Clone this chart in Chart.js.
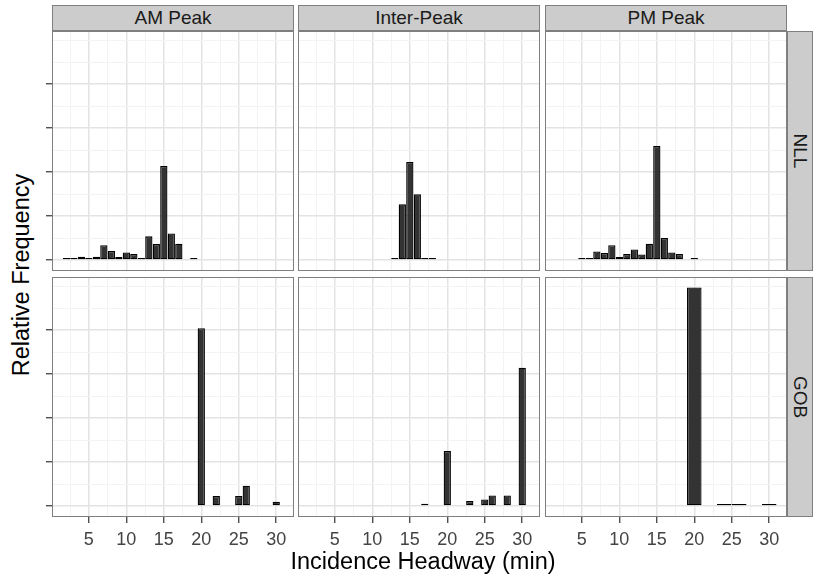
<!DOCTYPE html>
<html>
<head>
<meta charset="utf-8">
<script src="https://cdn.jsdelivr.net/npm/chart.js@4.4.1/dist/chart.umd.min.js"></script>
<style>
html,body{margin:0;padding:0;background:#fff;}
#root{position:relative;width:817px;height:581px;overflow:hidden;font-family:"Liberation Sans",Arial,sans-serif;}
#root canvas{position:absolute;}
.strip{position:absolute;box-sizing:border-box;background:#cccccc;border:1px solid #7f7f7f;color:#1a1a1a;font-size:19px;display:flex;align-items:center;justify-content:center;white-space:nowrap;}
.strip.v span{display:inline-block;transform:rotate(90deg);}
.title{position:absolute;color:#000;font-size:23.5px;white-space:nowrap;transform:translate(-50%,-50%);}
</style>
</head>
<body>
<div id="root"></div>
<script>
// ---------- data ----------
const periods = ['AM Peak', 'Inter-Peak', 'PM Peak'];
const routes = ['NLL', 'GOB'];
const xTickValues = [5, 10, 15, 20, 25, 30];
const yTickValues = [0, 0.1, 0.2, 0.3, 0.4];
const xAxisTitle = 'Incidence Headway (min)';
const yAxisTitle = 'Relative Frequency';

// NLL
const amNllHeadway = [2, 3, 4, 5, 6, 7, 8, 9, 10, 11, 12, 13, 14, 15, 16, 17, 19];
const amNllFreq    = [0.002, 0.0046, 0.0076, 0.0046, 0.0076, 0.034, 0.0205, 0.0068, 0.0175, 0.0137, 0.003, 0.054, 0.0364, 0.214, 0.0607, 0.0372, 0.0046];
const ipNllHeadway = [13, 14, 15, 16, 17, 18];
const ipNllFreq    = [0.001, 0.1267, 0.223, 0.1495, 0.001, 0.001];
const pmNllHeadway = [5, 6, 7, 8, 9, 10, 11, 12, 13, 14, 15, 16, 17, 18, 20];
const pmNllFreq    = [0.0015, 0.0015, 0.0197, 0.016, 0.034, 0.0068, 0.0137, 0.0243, 0.0129, 0.0372, 0.2595, 0.05, 0.0175, 0.0137, 0.001];

// GOB
const amGobHeadway = [20, 22, 25, 26, 30];
const amGobFreq    = [0.4045, 0.0227, 0.0227, 0.0462, 0.0098];
const ipGobHeadway = [17, 20, 23, 25, 26, 28, 30];
const ipGobFreq    = [0.0053, 0.125, 0.0114, 0.0152, 0.0242, 0.0242, 0.3144];
const pmGobHeadway = [20, 24, 26, 30];
const pmGobFreq    = [0.497, 0.002, 0.002, 0.002];

const panels = [
  [[amNllHeadway, amNllFreq], [ipNllHeadway, ipNllFreq], [pmNllHeadway, pmNllFreq]],
  [[amGobHeadway, amGobFreq], [ipGobHeadway, ipGobFreq], [pmGobHeadway, pmGobFreq]]
];

// ---------- layout / style ----------
const FONT = '"Liberation Sans", Arial, sans-serif';
const colLeft = [52, 298, 545];
const rowTop = [31, 277];
const panelW = 242, panelH = 240;
const X_MIN = 0.08, X_MAX = 32.37;
const Y_MIN = -0.0248, Y_MAX = 0.5208;

// grid positions: majors plus half-step minors
const xGrid = [];
for (let i = 0; i < xTickValues.length; i++) {
  xGrid.push(xTickValues[i] - 2.5, xTickValues[i]);
}
const yGrid = [];
for (let k = 0; k <= 10; k++) yGrid.push(+(k * 0.05).toFixed(4));

const isXMajor = v => xTickValues.some(t => Math.abs(t - v) < 1e-6);
const isYMajor = v => yTickValues.some(t => Math.abs(t - v) < 1e-6);

const root = document.getElementById('root');

const panelBorder = {
  id: 'panelBorder',
  afterDraw(chart) {
    const {ctx, chartArea: a} = chart;
    ctx.save();
    ctx.strokeStyle = '#7f7f7f';
    ctx.lineWidth = 1;
    ctx.strokeRect(Math.round(a.left) + 0.5, Math.round(a.top) + 0.5, Math.round(a.right - a.left) - 1, Math.round(a.bottom - a.top) - 1);
    ctx.restore();
  }
};

for (let r = 0; r < 2; r++) {
  for (let c = 0; c < 3; c++) {
    const L = c === 0 ? 7 : 0;
    const B = r === 1 ? 40 : 0;
    const cv = document.createElement('canvas');
    cv.width = panelW + L;
    cv.height = panelH + B;
    cv.style.left = (colLeft[c] - L) + 'px';
    cv.style.top = rowTop[r] + 'px';
    root.appendChild(cv);
    const [xs, ys] = panels[r][c];
    new Chart(cv, {
      type: 'bar',
      data: {
        datasets: [{
          data: xs.map((x, i) => ({x: x, y: ys[i]})),
          backgroundColor: '#333333',
          borderColor: '#000000',
          borderWidth: 1.3,
          borderSkipped: false,
          barPercentage: 0.97,
          categoryPercentage: 1.0,
          minBarLength: 2
        }]
      },
      options: {
        responsive: false,
        animation: false,
        layout: {padding: 0, autoPadding: false},
        plugins: {legend: {display: false}, tooltip: {enabled: false}},
        scales: {
          x: {
            type: 'linear', min: X_MIN, max: X_MAX, offset: false, bounds: 'data',
            border: {display: false},
            grid: {
              offset: false,
              color: ctx => isXMajor(ctx.tick.value) ? '#e3e3e3' : '#f3f3f3',
              lineWidth: ctx => isXMajor(ctx.tick.value) ? 1.5 : 1,
              drawTicks: r === 1,
              tickLength: 6,
              tickWidth: 1.2,
              tickColor: ctx => isXMajor(ctx.tick.value) ? '#333333' : 'rgba(0,0,0,0)'
            },
            ticks: {
              display: r === 1,
              autoSkip: false, maxRotation: 0, padding: 6,
              color: '#444444',
              font: {size: 18, family: FONT},
              callback: v => isXMajor(v) ? String(v) : ''
            },
            afterBuildTicks: s => { s.ticks = xGrid.map(v => ({value: v})); },
            afterFit: s => { s.height = B; }
          },
          y: {
            type: 'linear', min: Y_MIN, max: Y_MAX, bounds: 'data',
            border: {display: false},
            grid: {
              color: ctx => isYMajor(ctx.tick.value) ? '#e3e3e3' : '#f3f3f3',
              lineWidth: ctx => isYMajor(ctx.tick.value) ? 1.5 : 1,
              drawTicks: c === 0,
              tickLength: 6,
              tickWidth: 1.2,
              tickColor: ctx => isYMajor(ctx.tick.value) ? '#333333' : 'rgba(0,0,0,0)'
            },
            ticks: {display: false},
            afterBuildTicks: s => { s.ticks = yGrid.map(v => ({value: v})); },
            afterFit: s => { s.width = L; }
          }
        }
      },
      plugins: [panelBorder]
    });
  }
}

// strips
periods.forEach((p, c) => {
  const d = document.createElement('div');
  d.className = 'strip';
  d.style.left = colLeft[c] + 'px';
  d.style.top = '5px';
  d.style.width = panelW + 'px';
  d.style.height = '26px';
  d.textContent = p;
  root.appendChild(d);
});
routes.forEach((rt, r) => {
  const d = document.createElement('div');
  d.className = 'strip v';
  d.style.left = (colLeft[2] + panelW) + 'px';
  d.style.top = rowTop[r] + 'px';
  d.style.width = '26px';
  d.style.height = panelH + 'px';
  const s = document.createElement('span');
  s.textContent = rt;
  d.appendChild(s);
  root.appendChild(d);
});

// axis titles
const xt = document.createElement('div');
xt.className = 'title';
xt.style.left = '423px';
xt.style.top = '561px';
xt.textContent = xAxisTitle;
root.appendChild(xt);

const yt = document.createElement('div');
yt.className = 'title';
yt.style.left = '21px';
yt.style.top = '275px';
yt.style.transform = 'translate(-50%,-50%) rotate(-90deg)';
yt.textContent = yAxisTitle;
root.appendChild(yt);
</script>
</body>
</html>
